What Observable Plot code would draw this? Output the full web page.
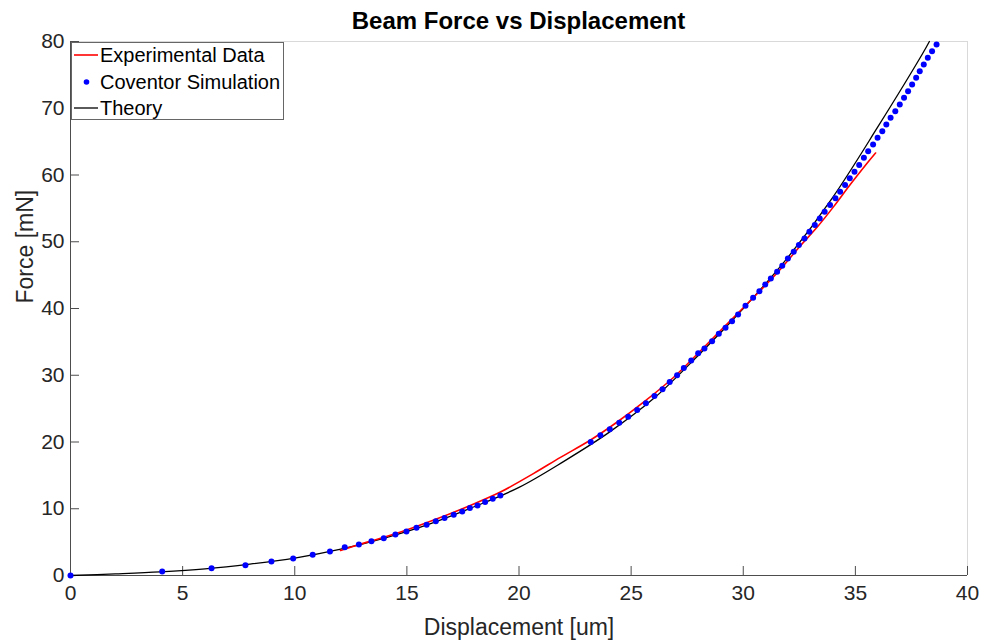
<!DOCTYPE html>
<html><head><meta charset="utf-8">
<script src="https://cdn.jsdelivr.net/npm/d3@7"></script>
<script src="https://cdn.jsdelivr.net/npm/@observablehq/plot@0.6"></script>
<style>
body{margin:0;background:#fff;font-family:"Liberation Sans",Arial,sans-serif;}
#wrap{position:relative;width:985px;height:641px;overflow:hidden;}
#title{position:absolute;left:70px;width:897px;top:9px;text-align:center;font-weight:bold;font-size:24px;line-height:24px;color:#000;}
#chart{position:absolute;left:0;top:34px;}
#legend{position:absolute;left:71px;top:42px;width:213px;height:78px;border:1px solid #666;background:#fff;box-sizing:border-box;}
.sw{position:absolute;left:2px;}
.lt{position:absolute;left:28px;font-size:20px;line-height:26px;height:26px;color:#000;white-space:nowrap;}
</style></head>
<body>
<div id="wrap">
  <div id="title"></div>
  <div id="chart"></div>
  <div id="legend"></div>
</div>
<script>
// ---- data ----
const titleText = "Beam Force vs Displacement";
const xLabel = "Displacement [um]";
const yLabel = "Force [mN]";
const seriesNames = ["Experimental Data", "Coventor Simulation", "Theory"];
const xTicks = [0, 5, 10, 15, 20, 25, 30, 35, 40];
const yTicks = [0, 10, 20, 30, 40, 50, 60, 70, 80];

// Experimental Data (red line)
const expX = [12.04, 13.23, 14.72, 16.2, 17.69, 19.17, 20.66, 21.85, 23.19, 24.38, 25.57, 26.9, 28.03, 29.43, 30.62, 31.66, 32.55, 33.3, 34.04, 34.78, 35.53, 35.9];
const expY = [3.75, 5.0, 6.5, 8.3, 10.3, 12.5, 15.3, 17.7, 20.3, 23.0, 26.0, 29.7, 33.45, 38.2, 42.2, 45.9, 49.4, 52.2, 55.3, 58.6, 61.8, 63.3];

// Coventor Simulation (blue dots)
const covX = [0, 4.09, 6.29, 7.8, 8.96, 9.93, 10.8, 11.57, 12.23, 12.86, 13.42, 13.97, 14.49, 14.98, 15.43, 15.88, 16.29, 16.68, 17.09, 17.47, 17.81, 18.15, 18.49, 18.83, 19.17,
  23.2, 23.63, 24.05, 24.47, 24.87, 25.27, 25.66, 26.04, 26.4, 26.72, 27.05, 27.35, 27.68, 27.99, 28.27, 28.61, 28.91, 29.21, 29.5, 29.77, 30.1, 30.44, 30.72, 30.98, 31.23, 31.51, 31.74, 31.99, 32.25, 32.48, 32.73, 32.95, 33.19, 33.41, 33.63, 33.87, 34.11, 34.32, 34.54, 34.75, 34.96, 35.17, 35.38, 35.57, 35.79, 35.99, 36.2, 36.38, 36.57, 36.78, 36.98, 37.17, 37.35, 37.53, 37.71, 37.87, 38.05, 38.23, 38.42, 38.62];
const covY = [0, 0.6, 1.1, 1.55, 2.1, 2.55, 3.1, 3.6, 4.25, 4.64, 5.14, 5.59, 6.14, 6.59, 7.14, 7.6, 8.14, 8.6, 9.09, 9.59, 10.1, 10.5, 11.0, 11.5, 12.0,
  20.0, 21.0, 21.9, 22.9, 23.8, 24.8, 25.8, 26.9, 27.9, 29.0, 30.0, 31.1, 32.2, 33.3, 34.0, 35.1, 36.2, 37.1, 38.1, 39.1, 40.4, 41.6, 42.6, 43.6, 44.5, 45.5, 46.4, 47.5, 48.5, 49.5, 50.5, 51.5, 52.5, 53.5, 54.5, 55.5, 56.5, 57.5, 58.5, 59.5, 60.5, 61.5, 62.57, 63.56, 64.57, 65.57, 66.56, 67.57, 68.57, 69.56, 70.56, 71.57, 72.55, 73.56, 74.56, 75.55, 76.55, 77.56, 78.55, 79.55];

// Theory (black line)
const thX = [0, 2, 4, 6, 8, 10, 12, 14, 16, 18, 20, 22, 24, 26, 28, 30, 32, 34, 36, 38, 38.3];
const thY = [0, 0.25, 0.55, 1.0, 1.7, 2.6, 3.9, 5.6, 7.7, 10.3, 13.2, 17.1, 21.4, 26.5, 33.0, 40.0, 47.7, 56.7, 67.2, 78.2, 80];

// ---- build tables ----
const experimental = expX.map((x, i) => ({x, y: expY[i]}));
const coventor = covX.map((x, i) => ({x, y: covY[i]}));
const theory = thX.map((x, i) => ({x, y: thY[i]}));

const axisColor = "#4d4d4d";
const font = "Liberation Sans, Arial, sans-serif";

const chart = Plot.plot({
  width: 985, height: 607,
  marginLeft: 70, marginRight: 18, marginTop: 7, marginBottom: 66,
  x: {domain: [0, 40]},
  y: {domain: [0, 80]},
  style: {fontFamily: font, fontSize: "21px", color: "#262626", background: "#fff", overflow: "visible"},
  marks: [
    Plot.ruleY([80], {stroke: "#d9d9d9"}),
    Plot.ruleX([40], {stroke: "#d9d9d9"}),
    Plot.axisX(xTicks, {tickSize: 0, tickPadding: 10, label: null, fontSize: 21, fill: "#262626"}),
    Plot.axisY(yTicks, {tickSize: 0, tickPadding: 6, label: null, fontSize: 21, fill: "#262626"}),
    Plot.ruleX(xTicks, {x: d => d, y1: () => 0, y2: () => 0, insetTop: -9, stroke: axisColor}),
    Plot.ruleY(yTicks, {y: d => d, x1: () => 0, x2: () => 0, insetRight: -9, stroke: axisColor}),
    Plot.ruleX([0], {stroke: axisColor}),
    Plot.ruleY([0], {stroke: axisColor}),
    Plot.line(theory, {x: "x", y: "y", stroke: "#000", strokeWidth: 1.3, curve: "catmull-rom"}),
    Plot.line(experimental, {x: "x", y: "y", stroke: "#ff0000", strokeWidth: 1.6, curve: "catmull-rom"}),
    Plot.dot(coventor, {x: "x", y: "y", fill: "#0000ff", r: 3}),
    Plot.text([xLabel], {text: d => d, frameAnchor: "bottom", dy: 52, lineAnchor: "middle", fontSize: 23, fill: "#262626"}),
    Plot.text([yLabel], {text: d => d, frameAnchor: "left", dx: -45, dy: -5, rotate: -90, lineAnchor: "middle", fontSize: 23, fill: "#262626"})
  ]
});
document.getElementById("chart").appendChild(chart);
document.getElementById("title").textContent = titleText;

// legend (inside the axes, top-left)
const legend = document.getElementById("legend");
const rowTops = [-1.5, 25.5, 51.5];
const swatches = [
  '<svg width="24" height="26"><line x1="0" x2="24" y1="13" y2="13" stroke="#ff0000" stroke-width="1.6"/></svg>',
  '<svg width="24" height="26"><circle cx="12.5" cy="13" r="2.8" fill="#0000ff"/></svg>',
  '<svg width="24" height="26"><line x1="0" x2="24" y1="13" y2="13" stroke="#000" stroke-width="1.3"/></svg>'
];
seriesNames.forEach((name, i) => {
  const sw = document.createElement("div");
  sw.className = "sw"; sw.style.top = rowTops[i] + "px"; sw.innerHTML = swatches[i];
  const t = document.createElement("div");
  t.className = "lt"; t.style.top = rowTops[i] + "px"; t.textContent = name;
  legend.appendChild(sw); legend.appendChild(t);
});
</script>
</body></html>
